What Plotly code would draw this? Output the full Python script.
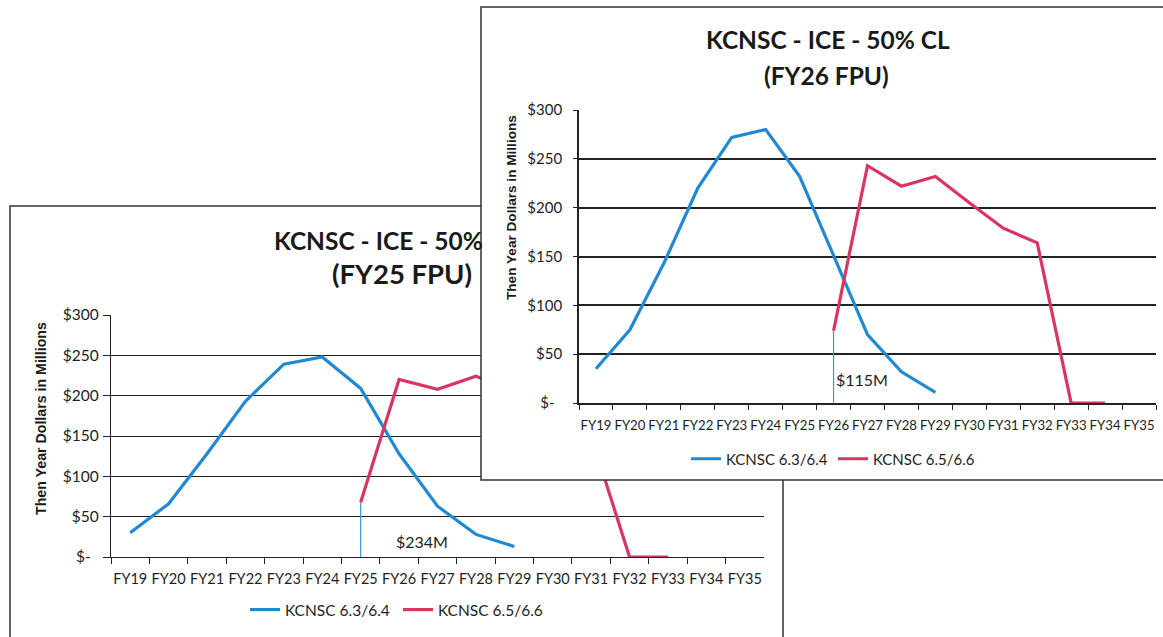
import plotly.graph_objects as go

# ---------------- data ----------------
years = ["FY19", "FY20", "FY21", "FY22", "FY23", "FY24", "FY25", "FY26", "FY27",
         "FY28", "FY29", "FY30", "FY31", "FY32", "FY33", "FY34", "FY35"]
y_ticks = [0, 50, 100, 150, 200, 250, 300]
y_tick_text = ["$-\u00a0\u00a0", "$50", "$100", "$150", "$200", "$250", "$300"]

series_names = ["KCNSC 6.3/6.4", "KCNSC 6.5/6.6"]

# Back chart: FY25 FPU
fy25_blue_years = years[0:11]          # FY19..FY29
fy25_blue = [30, 66, 128, 193, 239, 248, 209, 128, 63, 28, 13]
fy25_red_years = years[6:15]           # FY25..FY33
fy25_red = [68, 220, 208, 224, 205, 175, 150, 0, 0]
fy25_fpu_year = "FY25"
fy25_fpu_label = "$234M"

# Front chart: FY26 FPU
fy26_blue_years = years[0:11]          # FY19..FY29
fy26_blue = [35, 75, 143, 220, 272, 280, 232, 150, 70, 32, 11]
fy26_red_years = years[7:16]           # FY26..FY34
fy26_red = [74, 243, 222, 232, 205, 179, 164, 0, 0]
fy26_fpu_year = "FY26"
fy26_fpu_label = "$115M"

BLUE = "#2189d2"
RED = "#d8365f"
THIN = "#2a9de2"
BODY = "Lato, Roboto, sans-serif"
ARIAL = "Liberation Sans, Arial, sans-serif"

W, H = 1163, 637
def fx(p):
    return p / W
def fy(p):
    return 1 - p / H

fig = go.Figure()

# ---- back chart traces (subplot xy) ----
fig.add_trace(go.Scatter(x=fy25_blue_years, y=fy25_blue, mode="lines", name=series_names[0],
                         line=dict(color=BLUE, width=3.2), xaxis="x", yaxis="y", legend="legend"))
fig.add_trace(go.Scatter(x=fy25_red_years, y=fy25_red, mode="lines", name=series_names[1],
                         line=dict(color=RED, width=3.2), xaxis="x", yaxis="y", legend="legend"))
fig.add_trace(go.Scatter(x=[fy25_fpu_year, fy25_fpu_year], y=[0, fy25_red[0]], mode="lines",
                         line=dict(color=THIN, width=1.2), showlegend=False, xaxis="x", yaxis="y"))

# ---- occluder (front panel sheet) ----
fig.add_trace(go.Scatter(x=[None], y=[None], mode="lines", showlegend=False, hoverinfo="skip",
                         xaxis="x2", yaxis="y2"))

# ---- front chart traces (subplot x3y3) ----
fig.add_trace(go.Scatter(x=fy26_blue_years, y=fy26_blue, mode="lines", name=series_names[0],
                         line=dict(color=BLUE, width=3.2), xaxis="x3", yaxis="y3", legend="legend2"))
fig.add_trace(go.Scatter(x=fy26_red_years, y=fy26_red, mode="lines", name=series_names[1],
                         line=dict(color=RED, width=3.2), xaxis="x3", yaxis="y3", legend="legend2"))
fig.add_trace(go.Scatter(x=[fy26_fpu_year, fy26_fpu_year], y=[0, fy26_red[0]], mode="lines",
                         line=dict(color=THIN, width=1.2), showlegend=False, xaxis="x3", yaxis="y3"))

def xcat(domain, anchor, ticklen, fsize, standoff, gw):
    return dict(domain=domain, anchor=anchor, type="category", categoryorder="array",
                categoryarray=years, range=[-0.5, len(years) - 0.5], tickson="boundaries",
                ticks="outside", ticklen=ticklen, tickwidth=1.2, tickcolor="#222",
                showline=True, linecolor="#222", linewidth=gw, showgrid=False, zeroline=False,
                tickangle=0, automargin=False, tickfont=dict(family=BODY, size=fsize, color="#1e1e1e"),
                ticklabelstandoff=standoff, fixedrange=True)

def yval(domain, anchor, ticklen, fsize, standoff, gw):
    return dict(domain=domain, anchor=anchor, range=[0, 300], tickvals=y_ticks, ticktext=y_tick_text,
                ticks="outside", ticklen=ticklen, tickwidth=1.2, tickcolor="#222",
                showline=True, linecolor="#222", linewidth=gw, showgrid=True, gridcolor="#222",
                gridwidth=gw, zeroline=False, automargin=False,
                tickfont=dict(family=BODY, size=fsize, color="#1e1e1e"),
                ticklabelstandoff=standoff, fixedrange=True)

layout = dict(
    width=W, height=H, margin=dict(l=0, r=0, t=0, b=0, autoexpand=False),
    paper_bgcolor="white", plot_bgcolor="#ffffff",
    xaxis=xcat([fx(111), fx(764)], "y", 6, 14.5, 8, 1.3),
    yaxis=yval([fy(557), fy(315)], "x", 7, 15.5, 1, 1.3),
    xaxis2=dict(domain=[fx(481), 1.0], anchor="y2", visible=False, range=[0, 1],
                automargin=False, fixedrange=True),
    yaxis2=dict(domain=[fy(480), fy(7)], anchor="x2", visible=False, range=[0, 1],
                automargin=False, fixedrange=True),
    xaxis3=xcat([fx(579), fx(1156)], "y3", 5, 13.2, 9, 1.7),
    yaxis3=yval([fy(403), fy(110)], "x3", 4, 15, 8, 1.7),
    showlegend=True,
    legend=dict(orientation="h", x=fx(245), y=fy(610), xanchor="left", yanchor="middle",
                font=dict(family=BODY, size=15.5, color="#1e1e1e"), entrywidth=108,
                bgcolor="rgba(0,0,0,0)"),
    legend2=dict(orientation="h", x=fx(686), y=fy(459), xanchor="left", yanchor="middle",
                 font=dict(family=BODY, size=15, color="#1e1e1e"), entrywidth=102,
                 bgcolor="rgba(0,0,0,0)"),
    shapes=[
        # back sheet border (hidden where the front sheet covers it)
        dict(type="path", xref="paper", yref="paper", layer="below",
             path=f"M {fx(10)} 0 L {fx(10)} {fy(206)} L {fx(783)} {fy(206)} L {fx(783)} 0",
             line=dict(color="#333", width=1.5)),
        # front sheet border
        dict(type="path", xref="paper", yref="paper", layer="above",
             path=f"M 1 {fy(7)} L {fx(481)} {fy(7)} L {fx(481)} {fy(480)} L 1 {fy(480)}",
             line=dict(color="#333", width=1.5)),
    ],
    annotations=[
        # back chart (right part of its title is hidden behind the front sheet)
        dict(text="<b>KCNSC - ICE - 50%</b>", x=fx(272), y=fy(240), xref="paper", yref="paper",
             xanchor="left", yanchor="middle", showarrow=False,
             font=dict(family=BODY, size=24.5, color="#1a1a1a")),
        dict(text="<b>(FY25 FPU)</b>", x=fx(402), y=fy(273), xref="paper", yref="paper",
             xanchor="center", yanchor="middle", showarrow=False,
             font=dict(family=BODY, size=27.5, color="#1a1a1a")),
        dict(text="<b>Then Year Dollars in Millions</b>", x=fx(41), y=fy(419), xref="paper", yref="paper",
             xanchor="center", yanchor="middle", textangle=-90, showarrow=False,
             font=dict(family=ARIAL, size=14.2, color="#1a1a1a")),
        dict(text=fy25_fpu_label, x=fx(422), y=fy(541), xref="paper", yref="paper",
             xanchor="center", yanchor="middle", showarrow=False,
             font=dict(family=BODY, size=16, color="#1e1e1e")),
        # front chart
        dict(text="<b>KCNSC - ICE - 50% CL</b>", x=fx(828), y=fy(40), xref="paper", yref="paper",
             xanchor="center", yanchor="middle", showarrow=False,
             font=dict(family=BODY, size=24.5, color="#1a1a1a")),
        dict(text="<b>(FY26 FPU)</b>", x=fx(826), y=fy(75), xref="paper", yref="paper",
             xanchor="center", yanchor="middle", showarrow=False,
             font=dict(family=BODY, size=24.5, color="#1a1a1a")),
        dict(text="<b>Then Year Dollars in Millions</b>", x=fx(512), y=fy(208), xref="paper", yref="paper",
             xanchor="center", yanchor="middle", textangle=-90, showarrow=False,
             font=dict(family=ARIAL, size=13.6, color="#1a1a1a")),
        dict(text=fy26_fpu_label, x=fx(862), y=fy(379), xref="paper", yref="paper",
             xanchor="center", yanchor="middle", showarrow=False,
             font=dict(family=BODY, size=16, color="#1e1e1e")),
    ],
)
fig.update_layout(**layout)
fig.write_html("out.html", config={"displayModeBar": False},
               post_script="document.body.style.margin='0';")
